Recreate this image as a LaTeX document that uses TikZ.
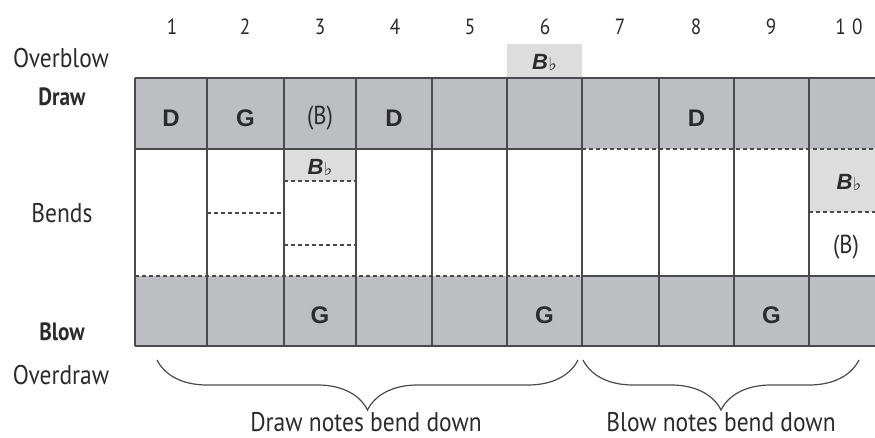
\documentclass[tikz,border=0pt]{standalone}
\usepackage{fontspec}
\setmainfont{PT Sans}
\newfontfamily\cellfont{Liberation Sans}
\newfontfamily\symfont{DejaVu Sans}
\usetikzlibrary{decorations.pathreplacing}
\definecolor{darkcell}{HTML}{BDBEC2}
\definecolor{lightcell}{HTML}{DDDDDE}
\definecolor{gridline}{HTML}{4A4A4C}
\definecolor{ink}{HTML}{2B2B2B}
\newcommand{\bflat}{{\cellfont\bfseries\itshape B}\kern0.5pt{\symfont\bfseries\fontsize{18}{18}\selectfont\raisebox{-1pt}{♭}}}
\newcommand{\narrow}[1]{\scalebox{0.87}[1]{#1}}
\newcommand{\narrowb}[1]{\scalebox{0.85}[1]{#1}}
\tikzset{
  grid/.style={draw=gridline, line width=1.4pt},
  dashgrid/.style={draw=gridline, line width=1.2pt, dash pattern=on 4pt off 3pt},
  numlabel/.style={font=\fontsize{22}{22}\selectfont, text=ink, inner sep=0pt},
  rowlabel/.style={font=\fontsize{27}{27}\selectfont, text=ink, inner sep=0pt},
  rowlabelb/.style={font=\bfseries\fontsize{25}{25}\selectfont, text=ink, inner sep=0pt},
  note/.style={font=\cellfont\bfseries\fontsize{24}{24}\selectfont, text=ink, inner sep=0pt},
  notep/.style={font=\fontsize{26}{26}\selectfont, text=ink, inner sep=0pt},
  flatnote/.style={font=\fontsize{22}{22}\selectfont, text=ink, inner sep=0pt},
  caption/.style={font=\fontsize{27}{27}\selectfont, text=ink, inner sep=0pt},
  bracestyle/.style={draw=gridline, line width=1.2pt, decorate,
    decoration={brace, mirror, amplitude=50pt}},
}
\begin{document}
\begin{tikzpicture}[x=1pt, y=-1pt]
\useasboundingbox (0,0) rectangle (875,438);
% fills
\fill[darkcell] (135,78) rectangle (875,149);
\fill[darkcell] (135,276) rectangle (875,346);
\fill[lightcell] (507,44) rectangle (582,78);
\fill[lightcell] (284,149) rectangle (356,181);
\fill[lightcell] (809,149) rectangle (875,212);
% horizontal lines
\draw[grid] (135,78) -- (875,78);
\draw[grid] (135,346) -- (875,346);
\draw[grid] (135,149) -- (582,149);
\draw[dashgrid] (582,149) -- (875,149);
\draw[dashgrid] (135,276) -- (582,276);
\draw[grid] (582,276) -- (875,276);
\draw[dashgrid] (207,213) -- (284,213);
\draw[dashgrid] (284,181) -- (356,181);
\draw[dashgrid] (284,245) -- (356,245);
\draw[dashgrid] (809,212) -- (875,212);
% vertical lines
\foreach \x in {135,207,284,356,432,507,582,659,734,809}
  \draw[grid] (\x,78) -- (\x,346);
% column numbers
\node[numlabel] (n1) at (172,27) {\narrow{1}};
\node[numlabel] (n2) at (245,27) {\narrow{2}};
\node[numlabel] (n3) at (320,27) {\narrow{3}};
\node[numlabel] (n4) at (395,27) {\narrow{4}};
\node[numlabel] (n5) at (470,27) {\narrow{5}};
\node[numlabel] (n6) at (545,27) {\narrow{6}};
\node[numlabel] (n7) at (620,27) {\narrow{7}};
\node[numlabel] (n8) at (696,27) {\narrow{8}};
\node[numlabel] (n9) at (771,27) {\narrow{9}};
\node[numlabel] (n10) at (849,27) {\narrow{1\,\,0}};
% row labels
\node[rowlabel] (lob) at (61,58) {\narrow{Overblow}};
\node[rowlabelb] (ldr) at (62,97) {\narrowb{Draw}};
\node[rowlabel] (lbe) at (62,213) {\narrow{Bends}};
\node[rowlabelb] (lbl) at (62,332) {\narrowb{Blow}};
\node[rowlabel] (lod) at (61,375) {\narrow{Overdraw}};
% draw notes
\node[note] (d1) at (171,118) {D};
\node[note] (d2) at (245.5,118) {G};
\node[notep] (d3) at (320,118) {\narrow{(B)}};
\node[note] (d4) at (394,118) {D};
\node[note] (d8) at (696.5,118) {D};
% blow notes
\node[note] (b3) at (320,315) {G};
\node[note] (b6) at (544.5,315) {G};
\node[note] (b9) at (771.5,315) {G};
% bends / overblow
\node[flatnote] (ob6) at (544.5,62) {\bflat};
\node[flatnote] (be3) at (320,167) {\bflat};
\node[flatnote] (be10) at (849,182) {\bflat};
\node[notep] (be10b) at (846,247) {\narrow{(B)}};
% braces
\coordinate (bl1) at (157,360);
\coordinate (bl2) at (578,360);
\coordinate (br1) at (583,360);
\coordinate (br2) at (859,360);
\draw[bracestyle] (bl1) -- (bl2);
\draw[bracestyle] (br1) -- (br2);
\node[caption] (cdraw) at (366,422) {\narrow{Draw notes bend down}};
\node[caption] (cblow) at (721,422) {\narrow{Blow notes bend down}};
\end{tikzpicture}
\end{document}
